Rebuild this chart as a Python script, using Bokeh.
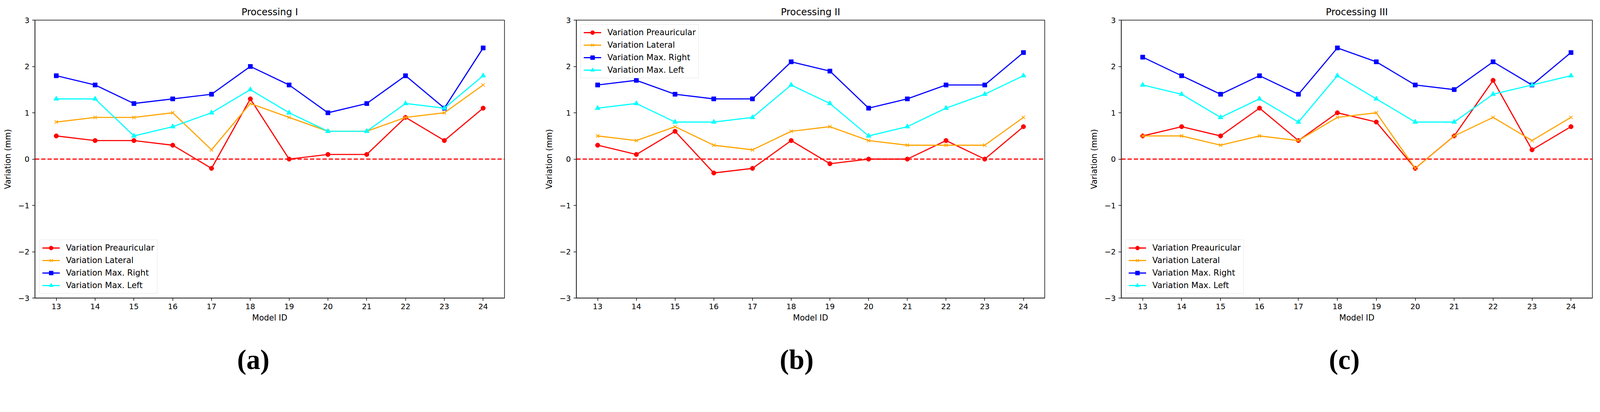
from bokeh.plotting import figure
from bokeh.models import (FixedTicker, Span, Legend, LegendItem, Label)
from bokeh.layouts import row, column
from bokeh.embed import file_html
from bokeh.resources import INLINE

# ---------------- data ----------------
model_ids = [13, 14, 15, 16, 17, 18, 19, 20, 21, 22, 23, 24]
y_ticks = [-3, -2, -1, 0, 1, 2, 3]
y_tick_labels = ["\u22123", "\u22122", "\u22121", "0", "1", "2", "3"]

series_names = ["Variation Preauricular", "Variation Lateral",
                "Variation Max. Right", "Variation Max. Left"]

titles = ["Processing I", "Processing II", "Processing III"]
panel_tags = ["(a)", "(b)", "(c)"]

p1_preauricular = [0.5, 0.4, 0.4, 0.3, -0.2, 1.3, 0.0, 0.1, 0.1, 0.9, 0.4, 1.1]
p1_lateral      = [0.8, 0.9, 0.9, 1.0, 0.2, 1.2, 0.9, 0.6, 0.6, 0.9, 1.0, 1.6]
p1_max_right    = [1.8, 1.6, 1.2, 1.3, 1.4, 2.0, 1.6, 1.0, 1.2, 1.8, 1.1, 2.4]
p1_max_left     = [1.3, 1.3, 0.5, 0.7, 1.0, 1.5, 1.0, 0.6, 0.6, 1.2, 1.1, 1.8]

p2_preauricular = [0.3, 0.1, 0.6, -0.3, -0.2, 0.4, -0.1, 0.0, 0.0, 0.4, 0.0, 0.7]
p2_lateral      = [0.5, 0.4, 0.7, 0.3, 0.2, 0.6, 0.7, 0.4, 0.3, 0.3, 0.3, 0.9]
p2_max_right    = [1.6, 1.7, 1.4, 1.3, 1.3, 2.1, 1.9, 1.1, 1.3, 1.6, 1.6, 2.3]
p2_max_left     = [1.1, 1.2, 0.8, 0.8, 0.9, 1.6, 1.2, 0.5, 0.7, 1.1, 1.4, 1.8]

p3_preauricular = [0.5, 0.7, 0.5, 1.1, 0.4, 1.0, 0.8, -0.2, 0.5, 1.7, 0.2, 0.7]
p3_lateral      = [0.5, 0.5, 0.3, 0.5, 0.4, 0.9, 1.0, -0.2, 0.5, 0.9, 0.4, 0.9]
p3_max_right    = [2.2, 1.8, 1.4, 1.8, 1.4, 2.4, 2.1, 1.6, 1.5, 2.1, 1.6, 2.3]
p3_max_left     = [1.6, 1.4, 0.9, 1.3, 0.8, 1.8, 1.3, 0.8, 0.8, 1.4, 1.6, 1.8]

panels_data = [
    [p1_preauricular, p1_lateral, p1_max_right, p1_max_left],
    [p2_preauricular, p2_lateral, p2_max_right, p2_max_left],
    [p3_preauricular, p3_lateral, p3_max_right, p3_max_left],
]

# ---------------- styles / layout ----------------
colors = ["red", "orange", "blue", "cyan"]
markers = ["circle", "x", "square", "triangle"]
marker_sizes = [11.5, 12, 11, 13]

H_MAIN = 870
H_TAG = 98
TAG_BOTTOM = 10   # distance of the tag's lower edge above the strip bottom
geom = [
    dict(width=1338, left=89, right=47, top=45, frame_h=717,
         legend="bottom_left", tag_x=559),
    dict(width=1386, left=137, right=50, top=51, frame_h=715,
         legend="top_left", tag_x=564),
    dict(width=1354, left=146, right=2, top=41, frame_h=721,
         legend="bottom_left", tag_x=571),
]
FONT = "DejaVu Sans"

figs = []
tag_figs = []
for i, g in enumerate(geom):
    bottom = H_MAIN - g["top"] - g["frame_h"]
    p = figure(width=g["width"], height=H_MAIN,
               x_range=(12.45, 24.55), y_range=(-3, 3),
               output_backend="svg", toolbar_location=None,
               min_border_left=g["left"], min_border_right=g["right"],
               min_border_top=g["top"], min_border_bottom=bottom)
    p.grid.visible = False
    p.background_fill_color = "white"
    p.border_fill_color = "white"
    p.outline_line_color = "black"
    p.outline_line_width = 1.5

    p.title.text = titles[i]
    p.title.align = "center"
    p.title.text_font = FONT
    p.title.text_font_size = "24.3px"
    p.title.text_font_style = "normal"
    p.title.text_color = "black"
    p.title.standoff = 13

    for ax in (p.xaxis[0], p.yaxis[0]):
        ax.axis_line_width = 1.5
        ax.axis_line_color = "black"
        ax.major_tick_line_width = 1.5
        ax.major_tick_line_color = "black"
        ax.major_tick_out = 7
        ax.major_tick_in = 0
        ax.minor_tick_out = 0
        ax.minor_tick_in = 0
        ax.major_label_standoff = 7
        ax.major_label_text_font = FONT
        ax.major_label_text_font_size = "19.6px"
        ax.major_label_text_color = "black"
        ax.axis_label_text_font = FONT
        ax.axis_label_text_font_size = "20.5px"
        ax.axis_label_text_font_style = "normal"
        ax.axis_label_text_color = "black"

    p.xaxis[0].ticker = FixedTicker(ticks=model_ids)
    p.xaxis[0].axis_label = "Model ID"
    p.xaxis[0].axis_label_standoff = 7
    p.yaxis[0].ticker = FixedTicker(ticks=y_ticks)
    p.yaxis[0].major_label_overrides = {t: l for t, l in zip(y_ticks, y_tick_labels)}
    p.yaxis[0].axis_label = "Variation (mm)"
    p.yaxis[0].axis_label_standoff = 12

    items = []
    for k, vals in enumerate(panels_data[i]):
        lr = p.line(model_ids, vals, line_color=colors[k], line_width=2.9)
        if markers[k] == "x":
            sr = p.scatter(model_ids, vals, marker="x", size=marker_sizes[k],
                           line_color=colors[k], line_width=1.9)
        else:
            sr = p.scatter(model_ids, vals, marker=markers[k], size=marker_sizes[k],
                           fill_color=colors[k], line_color=colors[k], line_width=1)
        items.append(LegendItem(label=series_names[k], renderers=[lr, sr]))

    zero = Span(location=0, dimension="width", line_color="red",
                line_width=2.9, line_dash="11 5")
    p.add_layout(zero)

    leg = Legend(items=items, location=g["legend"])
    leg.margin = 11
    leg.padding = 7
    leg.spacing = 6
    leg.label_height = 26
    leg.glyph_height = 26
    leg.glyph_width = 45
    leg.label_standoff = 16
    leg.label_text_font = FONT
    leg.label_text_font_size = "21px"
    leg.label_text_color = "black"
    leg.border_line_color = "#cccccc"
    leg.border_line_width = 1.5
    leg.background_fill_alpha = 0.8
    leg.background_fill_color = "white"
    p.add_layout(leg, "center")
    figs.append(p)

    # strip beneath each panel carrying the panel tag
    t = figure(width=g["width"], height=H_TAG, x_range=(0, 1), y_range=(0, 1),
               x_axis_type=None, y_axis_type=None,
               output_backend="svg", toolbar_location=None,
               min_border_left=0, min_border_right=0,
               min_border_top=0, min_border_bottom=0)
    t.grid.visible = False
    t.outline_line_color = None
    t.background_fill_color = "white"
    t.border_fill_color = "white"
    tag = Label(x=g["left"] + g["tag_x"], y=TAG_BOTTOM,
                x_units="screen", y_units="screen", text=panel_tags[i],
                text_align="center", text_baseline="bottom",
                text_font="Liberation Serif", text_font_style="bold",
                text_font_size="71px", text_color="black")
    t.add_layout(tag)
    tag_figs.append(t)

layout = column(row(*figs, spacing=0), row(*tag_figs, spacing=0), spacing=0)
open("out.html", "w").write(file_html(layout, INLINE))
